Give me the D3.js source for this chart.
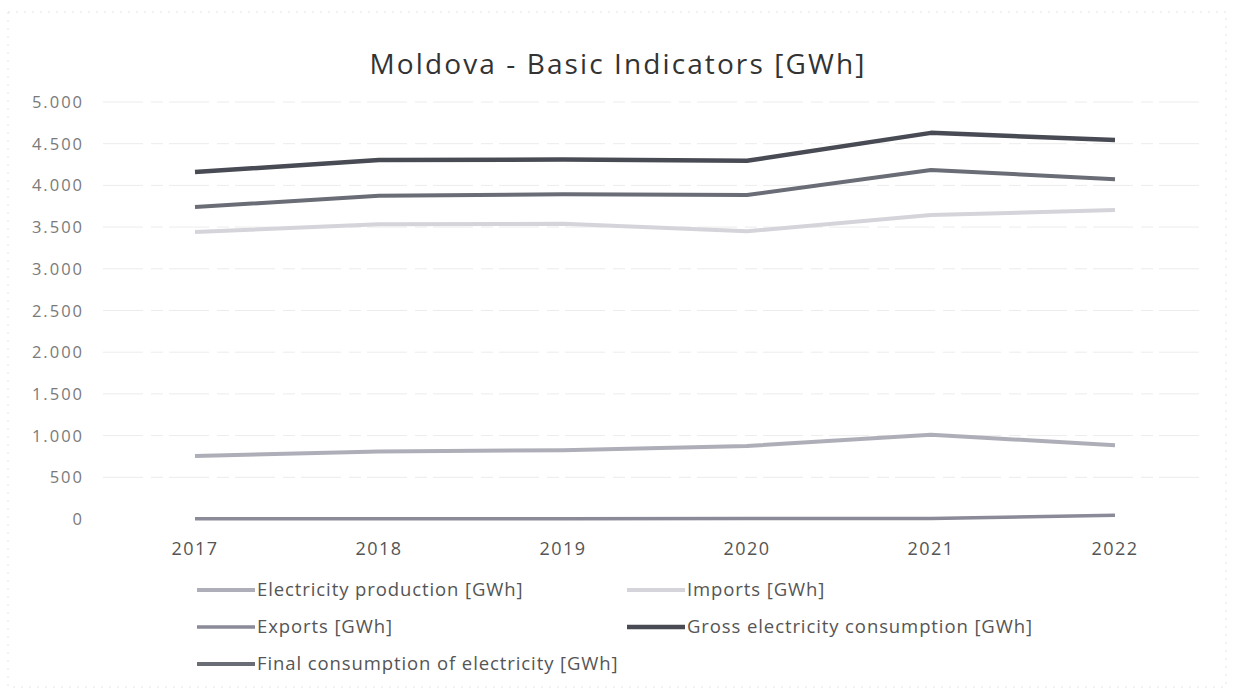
<!DOCTYPE html>
<meta charset="utf-8">
<head>
  <title>Moldova - Basic Indicators</title>
</head>

<style>
body { margin: 0; background: #fff; }
text { font-family: "Open Sans", "Noto Sans", sans-serif; }
</style>

<body>
  <svg width="1240" height="689"></svg>

  <script src="https://cdnjs.cloudflare.com/ajax/libs/d3/7.8.5/d3.min.js"></script>
  <script>
var width = 1240, height = 689

// data
var years = ['2017', '2018', '2019', '2020', '2021', '2022']
var production = [755, 810, 825, 875, 1010, 885]
var imports = [3440, 3535, 3540, 3450, 3645, 3705]
var exports = [3, 4, 4, 6, 5, 45]
var gross = [4160, 4305, 4310, 4295, 4630, 4545]
var finalCons = [3740, 3875, 3895, 3885, 4185, 4075]
var yTicks = [0, 500, 1000, 1500, 2000, 2500, 3000, 3500, 4000, 4500, 5000]

var series = [
  {name: 'Electricity production [GWh]', values: production, color: '#aeaeb8', w: 4},
  {name: 'Imports [GWh]', values: imports, color: '#d4d4da', w: 4},
  {name: 'Exports [GWh]', values: exports, color: '#8a8a98', w: 3.5},
  {name: 'Gross electricity consumption [GWh]', values: gross, color: '#484a54', w: 4.5},
  {name: 'Final consumption of electricity [GWh]', values: finalCons, color: '#6a6c76', w: 4}
]

var svg = d3.select('svg')

// faint chart border (scan edge)
svg.append('rect')
  .attr('x', 8).attr('y', 12)
  .attr('width', width - 22).attr('height', height - 14)
  .attr('fill', 'none')
  .attr('stroke', '#e4e4e4')
  .attr('stroke-dasharray', '2,6')

svg.append('text')
  .attr('x', 618).attr('y', 74)
  .attr('text-anchor', 'middle')
  .attr('font-size', 28)
  .attr('letter-spacing', 2.1)
  .attr('fill', '#333')
  .text('Moldova - Basic Indicators [GWh]')

var x = d3.scalePoint()
  .domain(years)
  .range([103, 1207])
  .padding(0.5)

var y = d3.scaleLinear()
  .domain([0, 5000])
  .range([519, 102])

var fmt = function(d) { return d3.format(',')(d).replace(/,/g, '.') }

// gridlines
svg.append('g')
  .selectAll('line')
  .data(yTicks.slice(1))
  .enter()
  .append('line')
  .attr('x1', 103).attr('x2', 1207)
  .attr('y1', function(d) { return y(d) })
  .attr('y2', function(d) { return y(d) })
  .attr('stroke', '#ececec')
  .attr('stroke-width', 1)
  .attr('stroke-dasharray', '40,8,12,6')

// y axis labels
svg.append('g')
  .selectAll('text')
  .data(yTicks)
  .enter()
  .append('text')
  .attr('x', 84)
  .attr('y', function(d) { return y(d) + 6 })
  .attr('text-anchor', 'end')
  .attr('font-family', 'DejaVu Sans')
  .attr('font-size', 16.5)
  .attr('letter-spacing', 2)
  .attr('fill', '#7a7a7a')
  .text(fmt)

// x axis labels
svg.append('g')
  .selectAll('text')
  .data(years)
  .enter()
  .append('text')
  .attr('x', function(d) { return x(d) })
  .attr('y', 555)
  .attr('text-anchor', 'middle')
  .attr('font-size', 18)
  .attr('letter-spacing', 1.5)
  .attr('fill', '#555')
  .text(function(d) { return d })

var line = d3.line()
  .x(function(d, i) { return x(years[i]) })
  .y(function(d) { return y(d) })

svg.append('g')
  .selectAll('path')
  .data(series)
  .enter()
  .append('path')
  .attr('d', function(d) { return line(d.values) })
  .attr('fill', 'none')
  .attr('stroke', function(d) { return d.color })
  .attr('stroke-width', function(d) { return d.w })
  .attr('stroke-linejoin', 'round')

// legend, two columns
var legendPos = [[197, 590], [627, 590], [197, 627], [627, 627], [197, 664]]

var lg = svg.append('g')
  .selectAll('g')
  .data(series)
  .enter()
  .append('g')
  .attr('transform', function(d, i) { return 'translate(' + legendPos[i][0] + ',' + legendPos[i][1] + ')' })

lg.append('line')
  .attr('x1', 0).attr('x2', 58)
  .attr('stroke', function(d) { return d.color })
  .attr('stroke-width', function(d) { return d.w })

lg.append('text')
  .attr('x', 60)
  .attr('y', 6)
  .attr('font-size', 18.5)
  .attr('letter-spacing', 0.9)
  .attr('fill', '#555')
  .text(function(d) { return d.name })
  </script>
</body>
</html>
